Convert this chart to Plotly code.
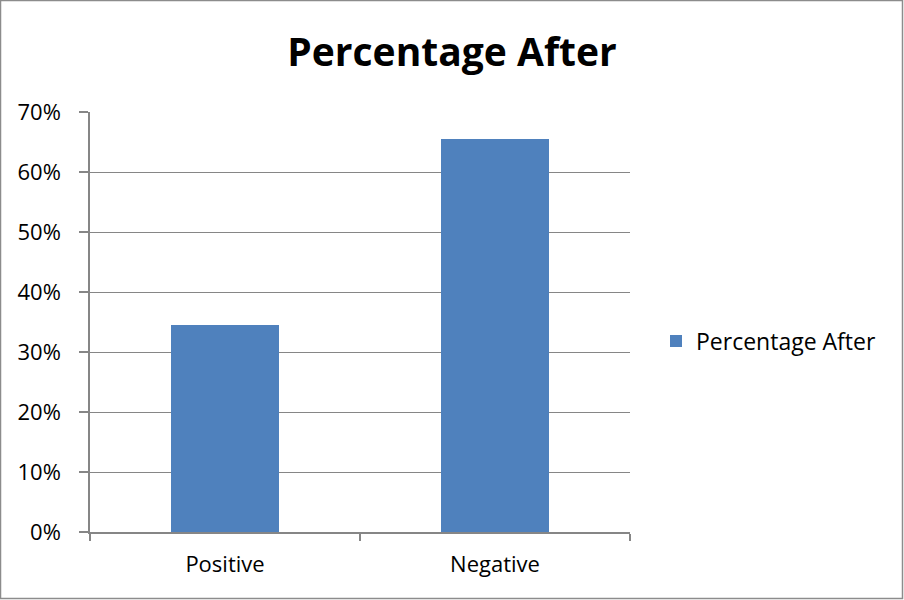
import plotly.graph_objects as go

categories = ["Positive", "Negative"]
values = [34.5, 65.5]
series_name = "Percentage After"
tick_vals = [0, 10, 20, 30, 40, 50, 60, 70]
tick_text = ["0%", "10%", "20%", "30%", "40%", "50%", "60%", "70%"]

W, H = 904, 600
ml, mr, mt, mb = 90, 274, 112, 68
pw, ph = W - ml - mr, H - mt - mb

font = "Open Sans, Liberation Sans, sans-serif"
grid = "#868686"

fig = go.Figure(go.Bar(
    x=categories, y=values, name=series_name,
    marker=dict(color="#4f81bd", line=dict(width=0)),
    showlegend=True,
))

# outer chart frame, expressed in paper coordinates
fx0, fx1 = (0.5 - ml) / pw, (W - 1.5 - ml) / pw
fy0, fy1 = (-mb + 1.5) / ph, (H - mb - 0.5) / ph

fig.update_layout(
    width=W, height=H,
    margin=dict(l=ml, r=mr, t=mt, b=mb),
    paper_bgcolor="white", plot_bgcolor="white",
    bargap=0.6,
    title=dict(text="<b>Percentage After</b>", x=452 / W, xanchor="center",
               y=1 - 52 / H, yanchor="middle",
               font=dict(family=font, size=39, color="black")),
    font=dict(family=font, size=22, color="black"),
    legend=dict(x=(656 - ml) / pw, y=(H - mb - 341) / ph, xanchor="left", yanchor="middle",
                font=dict(family=font, size=23, color="black"),
                itemwidth=30, bgcolor="rgba(0,0,0,0)"),
    xaxis=dict(showline=True, linecolor=grid, linewidth=1.5, ticks="outside",
               tickson="boundaries", ticklen=7, tickcolor=grid, tickwidth=1.5,
               ticklabelstandoff=12,
               tickfont=dict(size=22), showgrid=False),
    yaxis=dict(range=[0, 70], tickvals=tick_vals, ticktext=tick_text,
               showline=True, linecolor=grid, linewidth=1.5, ticks="outside",
               ticklen=9, tickcolor=grid, tickwidth=1.5, ticklabelstandoff=14,
               showgrid=True, gridcolor=grid, gridwidth=1, zeroline=False,
               tickfont=dict(size=22)),
    shapes=[dict(type="rect", xref="paper", yref="paper",
                 x0=fx0, x1=fx1, y0=fy0, y1=fy1,
                 line=dict(color="#8c8c8c", width=1.5), layer="below")],
)

fig.write_html("out.html")
